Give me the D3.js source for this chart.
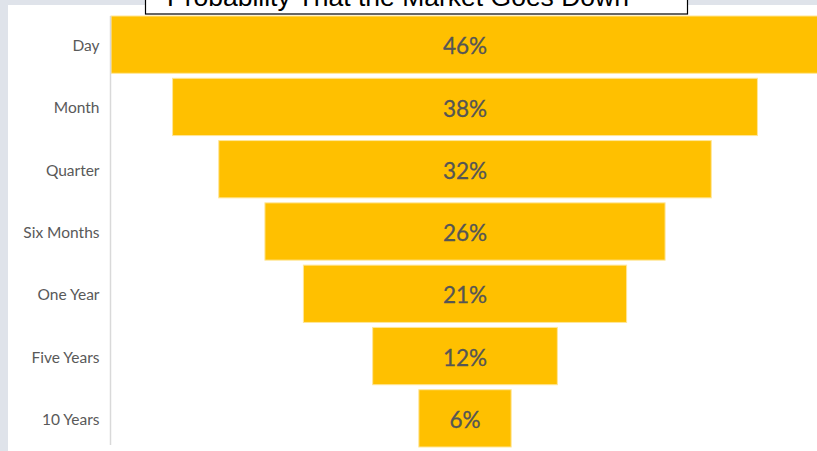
<!DOCTYPE html>
<html>
<head>
<meta charset="utf-8">
<script src="https://cdn.jsdelivr.net/npm/d3@7"></script>
<style>
  body { margin: 0; background: #dfe3ea; }
  svg { display: block; }
</style>
</head>
<body>
<svg></svg>
<script>
const width = 817;
const height = 451;

const periods = ['Day', 'Month', 'Quarter', 'Six Months', 'One Year', 'Five Years', '10 Years'];
const probabilities = [46, 38, 32, 26, 21, 12, 6];
const title = 'Probability That the Market Goes Down';

const center = 465;
const axisX = 110.5;

const svg = d3.select('svg')
  .attr('width', width)
  .attr('height', height);

// ====================================
// Background panel
// ====================================
svg.append('rect')
  .attr('x', 0).attr('y', 0)
  .attr('width', width).attr('height', height)
  .attr('fill', '#dfe3ea');

svg.append('rect')
  .attr('x', 8).attr('y', 5)
  .attr('width', width - 8).attr('height', height - 5)
  .attr('fill', '#fff');

// ====================================
// Scales
// ====================================
const yScale = d3.scaleBand()
  .domain(periods)
  .range([13.5, 449.5])
  .paddingInner(0.08)
  .paddingOuter(0.04);

const wScale = d3.scaleLinear()
  .domain([0, 46])
  .range([0, 708]);

// ====================================
// Bars
// ====================================
svg.selectAll('rect.bar')
  .data(periods)
  .enter()
  .append('rect')
  .attr('class', 'bar')
  .attr('x', (d, i) => center - wScale(probabilities[i]) / 2)
  .attr('y', d => yScale(d))
  .attr('width', (d, i) => wScale(probabilities[i]))
  .attr('height', yScale.bandwidth())
  .attr('fill', '#ffc000')
  .attr('stroke', '#ffe699')
  .attr('stroke-width', 1);

svg.selectAll('text.value')
  .data(periods)
  .enter()
  .append('text')
  .attr('class', 'value')
  .attr('x', center)
  .attr('y', d => yScale(d) + yScale.bandwidth() / 2 + 1.5)
  .attr('dy', '0.36em')
  .attr('text-anchor', 'middle')
  .attr('font-family', 'Lato, "Open Sans", sans-serif')
  .attr('font-size', 22.5)
  .attr('fill', '#555555')
  .attr('stroke', '#555555')
  .attr('stroke-width', 0.3)
  .text((d, i) => `${probabilities[i]}%`);

// ====================================
// Y Axis
// ====================================
const yAxis = d3.axisLeft(yScale).tickSize(0).tickPadding(11);

const gAxis = svg.append('g')
  .attr('transform', `translate(${axisX}, 1.5)`)
  .call(yAxis);

gAxis.select('.domain')
  .attr('d', `M0,14.5V443.5`)
  .attr('stroke', '#d9d9d9')
  .attr('stroke-width', 1.5);

gAxis.selectAll('text')
  .attr('font-family', 'Lato, "Open Sans", sans-serif')
  .attr('font-size', 15.5)
  .attr('fill', '#595959');

// =================================
// Title box
// =================================
svg.append('rect')
  .attr('x', 145.5)
  .attr('y', -10)
  .attr('width', 542)
  .attr('height', 24)
  .attr('fill', '#fff')
  .attr('stroke', '#000')
  .attr('stroke-width', 1.2);

svg.append('text')
  .text(title)
  .attr('x', 398)
  .attr('y', 6)
  .attr('text-anchor', 'middle')
  .attr('font-family', '"Liberation Sans", Arial, sans-serif')
  .attr('font-size', 26.5)
  .attr('fill', '#000');
</script>
</body>
</html>
